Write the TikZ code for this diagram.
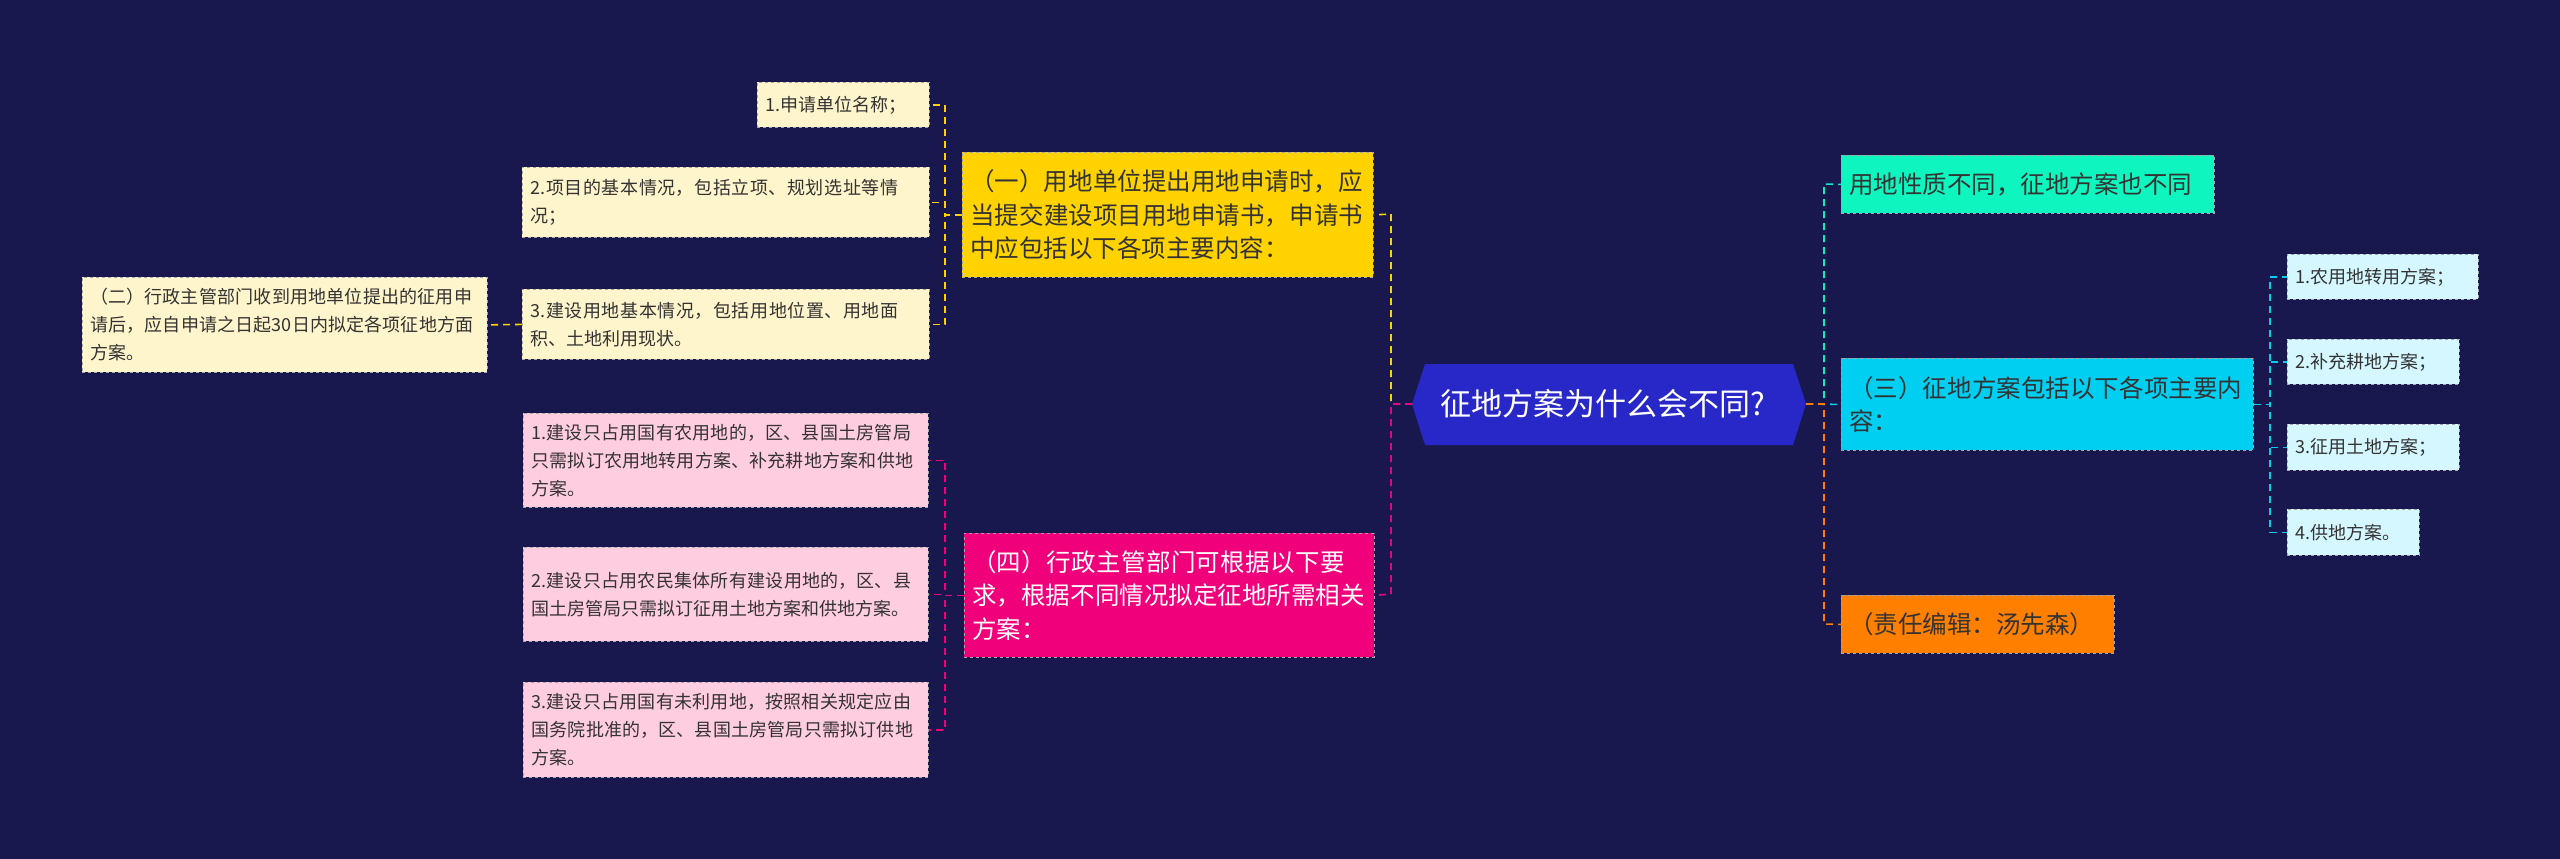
\documentclass[tikz,border=0pt]{standalone}
\usepackage{fontspec}
\setmainfont{Noto Sans CJK SC}
\XeTeXlinebreaklocale "zh"
\XeTeXlinebreakskip=0pt plus 1pt
\definecolor{bg}{HTML}{18184F}
\definecolor{yl}{HTML}{FFD200}
\definecolor{lyl}{HTML}{FFF5CC}
\definecolor{pk}{HTML}{F0007A}
\definecolor{lpk}{HTML}{FFCCE0}
\definecolor{tl}{HTML}{0EF5BF}
\definecolor{cy}{HTML}{00CFF2}
\definecolor{lcy}{HTML}{D5F7FF}
\definecolor{org}{HTML}{FF7F00}
\definecolor{hx}{HTML}{2828C8}
\definecolor{txt}{HTML}{333333}
\tikzset{x=1pt,y=-1pt,
 bx/.style={anchor=north west,inner ysep=0pt,inner xsep=#1,align=left,text=txt,draw=black!35,dashed,line width=0.8pt},
 bx/.default=8pt,
 sm/.style={font=\fontsize{18}{28}\selectfont},
 md/.style={font=\fontsize{24.5}{33.5}\selectfont},
 cn/.style={dashed,line width=1.6pt,dash pattern=on 7pt off 5pt}}
\newcommand{\bxn}[7]{% name,x1,y1,x2,y2,fill,text ; extra style via \bxs
 \pgfmathsetmacro{\ww}{#4-#2}\pgfmathsetmacro{\hh}{#5-#3}\pgfmathsetmacro{\tw}{#4-#2-16}
 \node[bx,\bxs,fill=#6,minimum width=\ww pt,minimum height=\hh pt,text width=\tw pt] (#1) at (#2,#3) {#7};}
\begin{document}
\begin{tikzpicture}
\fill[bg] (0,0) rectangle (2560,859);
\useasboundingbox (0,0) rectangle (2560,859);
% center hexagon
\fill[hx] (1412,404) -- (1425,364) -- (1793,364) -- (1806,404) -- (1793,445) -- (1425,445) -- cycle;
\node[text=white,font=\fontsize{31}{36}\selectfont] (c) at (1603,404) {征地方案为什么会不同?};
\coordinate (cl) at (1412,404); \coordinate (cr) at (1806,404);
% left level 1
\def\bxs{md}
\bxn{a1}{962}{152}{1373}{277}{yl}{（一）用地单位提出用地申请时，应当提交建设项目用地申请书，申请书中应包括以下各项主要内容：}
\node[bx,md,fill=pk,text=white,minimum width=410pt,minimum height=124pt,text width=394pt] (a4) at (964,533) {（四）行政主管部门可根据以下要求，根据不同情况拟定征地所需相关方案：};
\def\bxs{sm}
\bxn{y1}{757}{82}{929}{127}{lyl}{1.申请单位名称；}
\bxn{y2}{522}{167}{929}{237}{lyl}{2.项目的基本情况，包括立项、规划选址等情况；}
\bxn{y3}{522}{289}{929}{359}{lyl}{3.建设用地基本情况，包括用地位置、用地面积、土地利用现状。}
\bxn{y4}{82}{277}{487}{372}{lyl}{（二）行政主管部门收到用地单位提出的征用申请后，应自申请之日起30日内拟定各项征地方面方案。}
\bxn{p1}{523}{413}{928}{507}{lpk}{1.建设只占用国有农用地的，区、县国土房管局只需拟订农用地转用方案、补充耕地方案和供地方案。}
\bxn{p2}{523}{547}{928}{641}{lpk}{2.建设只占用农民集体所有建设用地的，区、县国土房管局只需拟订征用土地方案和供地方案。}
\bxn{p3}{523}{682}{928}{777}{lpk}{3.建设只占用国有未利用地，按照相关规定应由国务院批准的，区、县国土房管局只需拟订供地方案。}
% right level 1
\def\bxs{md}
\bxn{b1}{1841}{155}{2214}{213}{tl}{用地性质不同，征地方案也不同}
\bxn{b2}{1841}{358}{2253}{450}{cy}{（三）征地方案包括以下各项主要内容：}
\bxn{b3}{1841}{595}{2114}{653}{org}{（责任编辑：汤先森）}
\def\bxs{sm}
\bxn{c1}{2287}{254}{2478}{299}{lcy}{1.农用地转用方案；}
\bxn{c2}{2287}{339}{2459}{384}{lcy}{2.补充耕地方案；}
\bxn{c3}{2287}{424}{2459}{470}{lcy}{3.征用土地方案；}
\bxn{c4}{2287}{509}{2419}{555}{lcy}{4.供地方案。}
% connectors
\draw[cn,yl] (cl) -| (1391,214) -- (a1.east);
\draw[cn,pk] (cl) -| (1391,594) -- (a4.east);
\draw[cn,tl!80!cy] (cr) -| (1824,184) -- (b1.west);
\draw[cn,cy] (cr) -- (b2.west);
\draw[cn,org] (cr) -| (1824,624) -- (b3.west);
\foreach \n in {y1,y2,y3}{\draw[cn,yl] (a1.west) -| (945,0|-\n.east) -- (\n.east);}
\draw[cn,yl] (y3.west) -- (y4.east);
\foreach \n in {p1,p2,p3}{\draw[cn,pk] (a4.west) -| (945,0|-\n.east) -- (\n.east);}
\foreach \n in {c1,c2,c3,c4}{\draw[cn,cy] (b2.east) -| (2270,0|-\n.west) -- (\n.west);}
\end{tikzpicture}
\end{document}
